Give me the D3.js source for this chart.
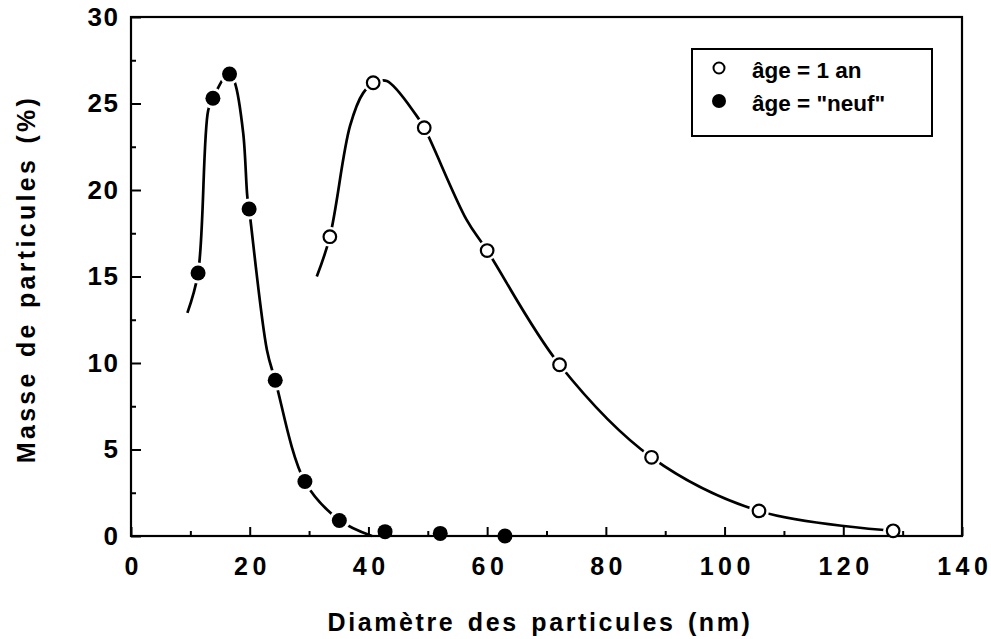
<!DOCTYPE html>
<html>
<head>
<meta charset=utf-8 />
<title>Masse de particules</title>
<style type="text/css">
 body { margin:0; background:#fff; }
 svg text { font-family: "Liberation Sans", Arial, sans-serif; font-weight: bold; fill: #000; }
</style>
<script src="https://d3js.org/d3.v7.min.js"></script>
</head>
<body>
<div id="chart-container"></div>
<script>

// measured points, age = 1 an (open circles)
var anX = [33.5, 40.8, 49.4, 60.0, 72.2, 87.7, 105.8, 128.4];
var anY = [17.3, 26.2, 23.6, 16.5, 9.9, 4.55, 1.45, 0.3];

// measured points, age = "neuf" (filled circles)
var neufX = [11.3, 13.8, 16.6, 19.9, 24.3, 29.3, 35.1, 42.8, 52.1, 63.0];
var neufY = [15.2, 25.3, 26.7, 18.9, 9.0, 3.15, 0.9, 0.25, 0.15, 0.0];

// fitted curves
var fitAnX = [31.3, 33.5, 36.9, 39.1, 41.0, 43.1, 48.1, 49.4, 56.5, 60.0, 72.2, 87.7, 105.8, 128.4];
var fitAnY = [15.0, 17.3, 23.7, 25.6, 26.2, 26.3, 24.3, 23.6, 18.3, 16.5, 9.9, 4.55, 1.45, 0.3];
var fitNeufX = [9.5, 11.3, 13.0, 13.8, 16.5, 17.5, 18.9, 19.6, 19.9, 22.9, 24.3, 29.3, 35.1, 40.6];
var fitNeufY = [12.9, 15.2, 24.6, 25.3, 26.8, 26.2, 23.3, 19.6, 18.9, 10.75, 9.0, 3.14, 0.92, 0.0];

var xMajor = [0, 20, 40, 60, 80, 100, 120, 140];
var xMinor = [10, 30, 50, 70, 90, 110, 130];
var yMajor = [0, 5, 10, 15, 20, 25, 30];
var yMinor = [2.5, 7.5, 12.5, 17.5, 22.5, 27.5];

var legendLabels = ["âge = 1 an", "âge = \"neuf\""];

var width = 991, height = 639;

var svg = d3.select("#chart-container")
  .append("svg")
    .attr("width", width)
    .attr("height", height);

var x = d3.scaleLinear().domain([0, 140]).range([131, 962]);
var y = d3.scaleLinear().domain([0, 30]).range([536, 17]);

// curves
var line = d3.line()
    .x(d => x(d[0]))
    .y(d => y(d[1]))
    .curve(d3.curveCatmullRom.alpha(0.5));

svg.append("path")
    .datum(d3.zip(fitNeufX, fitNeufY))
    .attr("d", line)
    .attr("fill", "none")
    .attr("stroke", "#000")
    .attr("stroke-width", 2.7);

svg.append("path")
    .datum(d3.zip(fitAnX, fitAnY))
    .attr("d", line)
    .attr("fill", "none")
    .attr("stroke", "#000")
    .attr("stroke-width", 2.7);

// white gaps round the markers
svg.selectAll(".haloN")
    .data(d3.zip(neufX, neufY))
    .enter().append("circle")
    .attr("cx", d => x(d[0]))
    .attr("cy", d => y(d[1]))
    .attr("r", 10.5)
    .attr("fill", "#fff");

svg.selectAll(".haloA")
    .data(d3.zip(anX, anY))
    .enter().append("circle")
    .attr("cx", d => x(d[0]))
    .attr("cy", d => y(d[1]))
    .attr("r", 10)
    .attr("fill", "#fff");

// axes
var xAxis = svg.append("g")
    .attr("transform", "translate(0," + y(0) + ")")
    .call(d3.axisBottom(x).tickValues(xMajor).tickSize(-9).tickPadding(21).tickFormat(d3.format("d")));
var yAxis = svg.append("g")
    .attr("transform", "translate(" + x(0) + ",0)")
    .call(d3.axisLeft(y).tickValues(yMajor).tickSize(-10).tickPadding(13).tickFormat(d3.format("d")));

svg.append("g")
    .attr("transform", "translate(0," + y(0) + ")")
    .call(d3.axisBottom(x).tickValues(xMinor).tickSize(-5).tickFormat(""));
svg.append("g")
    .attr("transform", "translate(" + x(0) + ",0)")
    .call(d3.axisLeft(y).tickValues(yMinor).tickSize(-5).tickFormat(""));

svg.selectAll(".domain").remove();
svg.selectAll(".tick line").attr("stroke", "#000").attr("stroke-width", 2);

xAxis.selectAll("text")
    .attr("font-size", 25)
    .attr("letter-spacing", 4.5)
    .attr("dx", 2.25);
yAxis.selectAll("text")
    .attr("font-size", 26)
    .attr("letter-spacing", 1.5)
    .attr("dx", 1.5);

// frame
svg.append("rect")
    .attr("x", x(0))
    .attr("y", y(30))
    .attr("width", x(140) - x(0))
    .attr("height", y(0) - y(30))
    .attr("fill", "none")
    .attr("stroke", "#000")
    .attr("stroke-width", 2.2);

// markers
svg.selectAll(".neuf")
    .data(d3.zip(neufX, neufY))
    .enter().append("circle")
    .attr("cx", d => x(d[0]))
    .attr("cy", d => y(d[1]))
    .attr("r", 7.5)
    .attr("fill", "#000");

svg.selectAll(".an")
    .data(d3.zip(anX, anY))
    .enter().append("circle")
    .attr("cx", d => x(d[0]))
    .attr("cy", d => y(d[1]))
    .attr("r", 6.3)
    .attr("fill", "#fff")
    .attr("stroke", "#000")
    .attr("stroke-width", 2.2);

// axis titles
svg.append("text")
    .attr("x", 540)
    .attr("y", 631)
    .attr("text-anchor", "middle")
    .attr("font-size", 25)
    .attr("letter-spacing", 2.6)
    .attr("word-spacing", 3)
    .text("Diamètre des particules (nm)");

svg.append("text")
    .attr("transform", "translate(35,279) rotate(-90)")
    .attr("text-anchor", "middle")
    .attr("font-size", 25)
    .attr("letter-spacing", 3.3)
    .attr("word-spacing", 3)
    .text("Masse de particules (%)");

// legend
var legend = svg.append("g");
legend.append("rect")
    .attr("x", 692)
    .attr("y", 49)
    .attr("width", 240)
    .attr("height", 87)
    .attr("fill", "#fff")
    .attr("stroke", "#000")
    .attr("stroke-width", 2);

legend.append("circle")
    .attr("cx", 719).attr("cy", 68).attr("r", 5.5)
    .attr("fill", "#fff").attr("stroke", "#000").attr("stroke-width", 2);
legend.append("circle")
    .attr("cx", 719).attr("cy", 101).attr("r", 7)
    .attr("fill", "#000");

legend.selectAll(".lbl")
    .data(legendLabels)
    .enter().append("text")
    .attr("x", 752)
    .attr("y", (d, i) => 78 + i * 33)
    .attr("font-size", 22.5)
    .text(d => d);

</script>
</body>
</html>
